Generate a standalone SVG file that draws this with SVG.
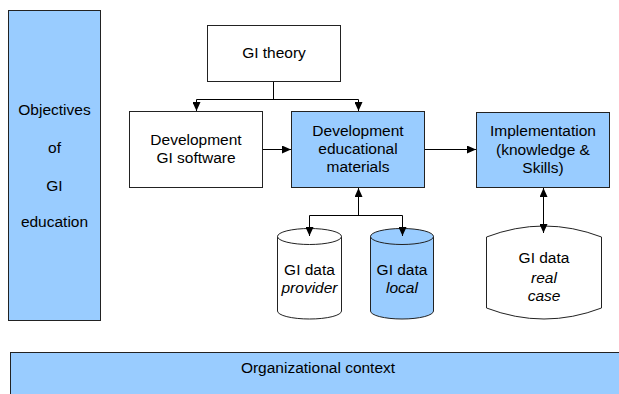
<svg xmlns="http://www.w3.org/2000/svg" width="619" height="394" viewBox="0 0 619 394">
<style>
.box{stroke:#222;stroke-width:1}
.w{fill:#fff}
.b{fill:#99ccff}
.t{font-family:"Liberation Sans",Arial,sans-serif;font-size:15.5px;fill:#000;text-anchor:middle}
.i{font-style:italic}
.c{fill:none;stroke:#000;stroke-width:1}
</style>
<defs>
<marker id="ah" markerUnits="userSpaceOnUse" markerWidth="10" markerHeight="8" refX="9" refY="4" orient="auto-start-reverse">
<path d="M0,0 L9,4 L0,8 Z" fill="#000"/>
</marker>
</defs>
<rect width="619" height="394" fill="#fff"/>
<g id="objectives">
<rect class="box b" x="8.5" y="10.5" width="92" height="310"/>
<text class="t" x="54.5" y="115">Objectives</text>
<text class="t" x="54.5" y="153">of</text>
<text class="t" x="54.5" y="191">GI</text>
<text class="t" x="54.5" y="227">education</text>
</g>
<g id="org-context">
<rect class="box b" x="10.5" y="352.5" width="620" height="50"/>
<text class="t" x="318" y="373">Organizational context</text>
</g>
<g id="gi-theory">
<rect class="box w" x="207.5" y="25.5" width="133" height="56"/>
<text class="t" x="274" y="58">GI theory</text>
</g>
<g id="dev-software">
<rect class="box w" x="129.5" y="111.5" width="133" height="76"/>
<text class="t" x="196" y="145">Development</text>
<text class="t" x="196" y="163">GI software</text>
</g>
<g id="dev-materials">
<rect class="box b" x="291.5" y="111.5" width="133" height="76"/>
<text class="t" x="358" y="136">Development</text>
<text class="t" x="358" y="154">educational</text>
<text class="t" x="358" y="172">materials</text>
</g>
<g id="implementation">
<rect class="box b" x="476.5" y="112.5" width="133" height="75"/>
<text class="t" x="543" y="136">Implementation</text>
<text class="t" x="543" y="155">(knowledge &amp;</text>
<text class="t" x="543" y="173">Skills)</text>
</g>
<g id="data-provider">
<path class="box w" d="M277.5,236.5 V311 A32,8 0 0 0 341.5,311 V236.5 Z"/>
<ellipse class="box w" cx="309.5" cy="236.5" rx="32" ry="8"/>
<text class="t" x="309.5" y="275">GI data</text>
<text class="t i" x="309.5" y="293">provider</text>
</g>
<g id="data-local">
<path class="box b" d="M370.5,236.5 V311 A31.5,8 0 0 0 433.5,311 V236.5 Z"/>
<ellipse class="box b" cx="402" cy="236.5" rx="31.5" ry="8"/>
<text class="t" x="402" y="275">GI data</text>
<text class="t i" x="402" y="293">local</text>
</g>
<g id="data-realcase">
<path class="box w" d="M486.5,237 Q544,215 601.5,237 V308 Q544,330 486.5,308 Z"/>
<text class="t" x="544" y="263">GI data</text>
<text class="t i" x="544" y="283">real</text>
<text class="t i" x="544" y="301">case</text>
</g>
<g id="connectors">
<path class="c" d="M273.5,82 V99.5 M196.5,99.5 H358.5"/>
<path class="c" d="M196.5,99.5 V111" marker-end="url(#ah)"/>
<path class="c" d="M358.5,99.5 V111" marker-end="url(#ah)"/>
<path class="c" d="M263,149.5 H291" marker-end="url(#ah)"/>
<path class="c" d="M425,149.5 H476" marker-end="url(#ah)"/>
<path class="c" d="M543.5,188 V233" marker-start="url(#ah)" marker-end="url(#ah)"/>
<path class="c" d="M358.5,215.5 V188" marker-end="url(#ah)"/>
<path class="c" d="M309.5,215.5 H402.5"/>
<path class="c" d="M309.5,215.5 V236" marker-end="url(#ah)"/>
<path class="c" d="M402.5,215.5 V236" marker-end="url(#ah)"/>
</g>
</svg>
